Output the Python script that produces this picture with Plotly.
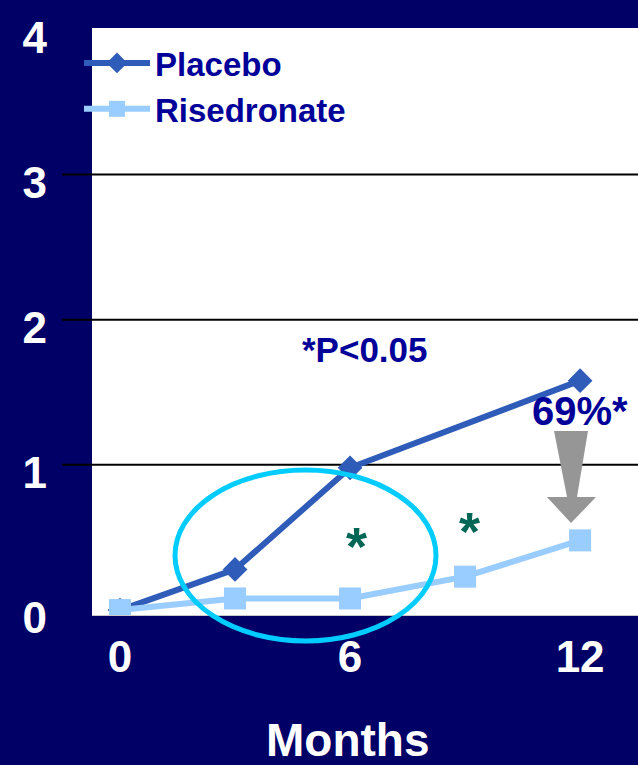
import plotly.graph_objects as go

# ---- data ----
months_placebo = [0, 3, 6, 12]
placebo = [0, 0.28, 0.98, 1.58]
months_ris = [0, 3, 6, 9, 12]
risedronate = [0, 0.08, 0.08, 0.23, 0.48]
y_ticks = [0, 1, 2, 3, 4]
y_ticktext = ["0", "1", "2", "3", "4"]
x_ticks = [0, 6, 12]
x_ticktext = ["0", "6", "12"]
grid_vals = [1, 2, 3]

NAVY = "#000066"
TXT = "#000099"
FONT = "Liberation Sans, Arial, sans-serif"

# plot-area geometry in pixels (for decorations)
PX0, PW, PY0, PH = 92, 546, 28, 587


def px(x):
    return (x - PX0) / PW


def py(y):
    return (PY0 + PH - y) / PH


fig = go.Figure()
fig.add_trace(go.Scatter(
    x=months_placebo, y=placebo, name="Placebo", mode="lines+markers",
    line=dict(color="#2F5CB8", width=6),
    marker=dict(symbol="diamond", size=19, color="#2F5CB8"),
))
fig.add_trace(go.Scatter(
    x=months_ris, y=risedronate, name="Risedronate", mode="lines+markers",
    line=dict(color="#99CCFF", width=6),
    marker=dict(symbol="square", size=22, color="#99CCFF"),
))

shapes = []
for v in grid_vals:
    shapes.append(dict(type="line", xref="paper", yref="y", x0=px(62), x1=1, y0=v, y1=v,
                       line=dict(color="black", width=2), layer="below"))
# cyan ellipse
shapes.append(dict(type="circle", xref="paper", yref="paper",
                   x0=px(175), x1=px(436), y0=py(641), y1=py(470),
                   line=dict(color="#00CCFF", width=5), layer="above"))
# grey tapered arrow
pts = [(554, 431), (588, 431), (577, 497), (596, 497), (571, 523), (547, 497), (567, 497)]
path = "M " + " L ".join(f"{px(a):.4f},{py(b):.4f}" for a, b in pts) + " Z"
shapes.append(dict(type="path", xref="paper", yref="paper", path=path,
                   fillcolor="#969696", line=dict(width=0), layer="above"))


def note(text, x, y, size, color):
    return dict(text=text, x=px(x), y=py(y), xref="paper", yref="paper",
                xanchor="center", yanchor="middle", showarrow=False,
                font=dict(size=size, color=color, family=FONT, weight="bold"))


annotations = [
    note("*P<0.05", 365, 349, 35, TXT),
    note("69%*", 580, 411, 40, TXT),
    note("*", 356, 546, 54, "#006655"),
    note("*", 469, 531, 54, "#006655"),
    note("Months", 348, 740, 46, "white"),
]

fig.update_layout(
    width=638, height=765,
    margin=dict(l=PX0, r=0, t=PY0, b=765 - PY0 - PH, pad=0),
    paper_bgcolor=NAVY, plot_bgcolor="white",
    showlegend=True,
    legend=dict(x=px(79), y=py(35), xanchor="left", yanchor="top",
                bgcolor="rgba(0,0,0,0)", itemwidth=66, tracegroupgap=0,
                font=dict(size=33, color=TXT, family=FONT, weight="bold")),
    xaxis=dict(range=[-0.73, 13.51], tickvals=x_ticks, ticktext=x_ticktext,
               showgrid=False, zeroline=False, showline=True, linecolor="#C8C8C8", linewidth=1,
               ticks="", ticklabelstandoff=3,
               tickfont=dict(size=44, color="white", family=FONT, weight="bold")),
    yaxis=dict(range=[-0.034, 4.009], tickvals=y_ticks, ticktext=y_ticktext,
               showgrid=False, zeroline=False, showline=False, ticks="",
               ticklabelstandoff=44, ticklabelshift=8, ticklabeloverflow="allow",
               tickfont=dict(size=44, color="white", family=FONT, weight="bold")),
    shapes=shapes, annotations=annotations,
)

fig.write_html("out.html", config={"displayModeBar": False},
               post_script="document.body.style.margin='0';document.body.style.padding='0';")
